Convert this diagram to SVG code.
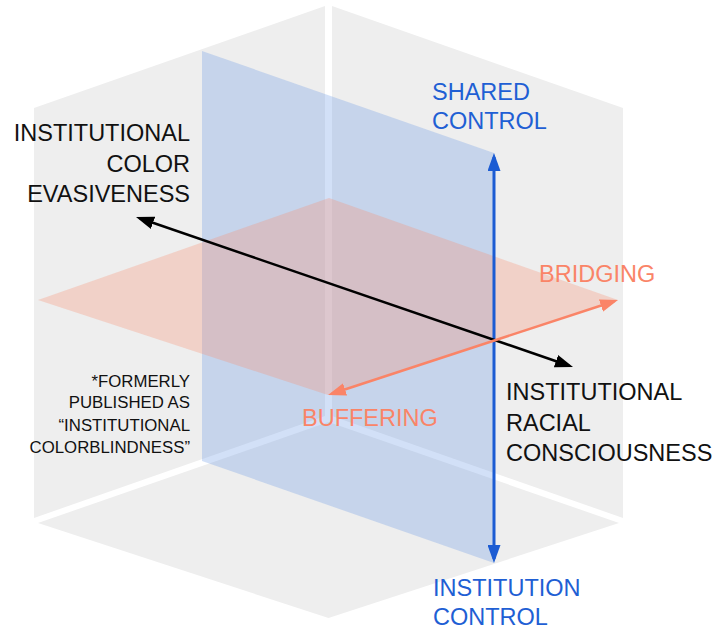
<svg xmlns="http://www.w3.org/2000/svg" width="719" height="630" viewBox="0 0 719 630">
  <style>
    .face { fill: #eeeeee; }
    .vplane { fill: #6997e4; fill-opacity: 0.3; }
    .hplane { fill: #f7906f; fill-opacity: 0.3; }
    .lbl { font-family: 'Liberation Sans', Arial, sans-serif; font-size: 23.5px; }
    .note { font-family: 'Liberation Sans', Arial, sans-serif; font-size: 16.8px; fill: #111111; }
    .black { fill: #111111; }
    .blue { fill: #1f5fd4; }
    .coral { fill: #fa8467; }
  </style>
  <defs>
    <marker id="ahBlue" viewBox="0 0 18 13" refX="14" refY="6.5" markerWidth="18" markerHeight="13" markerUnits="userSpaceOnUse" orient="auto-start-reverse">
      <path d="M0,0 L18,6.5 L0,13 z" fill="#1c5cd3"/>
    </marker>
    <marker id="ahBlack" viewBox="0 0 18 13" refX="14" refY="6.5" markerWidth="18" markerHeight="13" markerUnits="userSpaceOnUse" orient="auto-start-reverse">
      <path d="M0,0 L18,6.5 L0,13 z" fill="#000000"/>
    </marker>
    <marker id="ahCoral" viewBox="0 0 18 13" refX="14" refY="6.5" markerWidth="18" markerHeight="13" markerUnits="userSpaceOnUse" orient="auto-start-reverse">
      <path d="M0,0 L18,6.5 L0,13 z" fill="#fa8467"/>
    </marker>
  </defs>

  <g id="cube">
    <polygon id="wall-left" class="face" points="34,108 325,6 325,416 34,518"/>
    <polygon id="wall-right" class="face" points="332,6 623,108 623,518 332,416"/>
    <polygon id="floor" class="face" points="38,523 328.5,422 619,523 328.5,618"/>
  </g>

  <g id="planes">
    <polygon id="plane-vertical" class="vplane" points="202,51 494,153 494,563 202,461"/>
    <polygon id="plane-horizontal" class="hplane" points="38,300 329,198 618,300 328,395"/>
  </g>

  <g id="connectors">
    <line id="axis-control" x1="494" y1="157" x2="494" y2="559" stroke="#1c5cd3" stroke-width="3" marker-start="url(#ahBlue)" marker-end="url(#ahBlue)"/>
    <line id="axis-race" x1="139.8" y1="218.3" x2="569.2" y2="365.7" stroke="#000000" stroke-width="2.5" marker-start="url(#ahBlack)" marker-end="url(#ahBlack)"/>
    <line id="axis-bridge" x1="331.8" y1="393.8" x2="614.2" y2="301.2" stroke="#fa8467" stroke-width="2.5" marker-start="url(#ahCoral)" marker-end="url(#ahCoral)"/>
  </g>

  <g id="label-evasiveness" class="lbl black" text-anchor="end">
    <text x="190" y="141">INSTITUTIONAL</text>
    <text x="190" y="172">COLOR</text>
    <text x="190" y="202">EVASIVENESS</text>
  </g>

  <g id="label-shared" class="lbl blue">
    <text x="432" y="100">SHARED</text>
    <text x="432" y="129">CONTROL</text>
  </g>

  <g id="label-bridging" class="lbl coral">
    <text x="539" y="282">BRIDGING</text>
  </g>

  <g id="label-buffering" class="lbl coral">
    <text x="302" y="426">BUFFERING</text>
  </g>

  <g id="label-consciousness" class="lbl black">
    <text x="506" y="400">INSTITUTIONAL</text>
    <text x="506" y="431">RACIAL</text>
    <text x="506" y="461">CONSCIOUSNESS</text>
  </g>

  <g id="label-institution" class="lbl blue">
    <text x="433" y="596">INSTITUTION</text>
    <text x="433" y="625">CONTROL</text>
  </g>

  <g id="footnote" class="note" text-anchor="end">
    <text x="190" y="387">*FORMERLY</text>
    <text x="190" y="408">PUBLISHED AS</text>
    <text x="190" y="431">“INSTITUTIONAL</text>
    <text x="190" y="453">COLORBLINDNESS”</text>
  </g>
</svg>
